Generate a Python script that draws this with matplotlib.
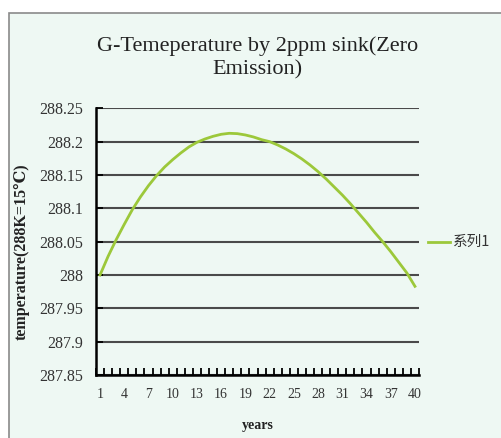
import matplotlib
matplotlib.use("Agg")
import matplotlib.pyplot as plt
from matplotlib.patches import Rectangle
import numpy as np

# data
years = list(range(1, 41))
temps = [288.000, 288.028, 288.053, 288.076, 288.098, 288.117, 288.134, 288.149,
         288.162, 288.173, 288.183, 288.192, 288.199, 288.204, 288.208, 288.211,
         288.2125, 288.212, 288.210, 288.207, 288.203, 288.200, 288.195, 288.189,
         288.182, 288.174, 288.165, 288.155, 288.144, 288.132, 288.120, 288.107,
         288.093, 288.079, 288.064, 288.050, 288.035, 288.019, 288.003, 287.983]
yticks = [287.85, 287.9, 287.95, 288, 288.05, 288.1, 288.15, 288.2, 288.25]
ytick_labels = ["287.85", "287.9", "287.95", "288", "288.05", "288.1", "288.15", "288.2", "288.25"]
xtick_years = years[::3]
series_name = "系列1"

W, H = 502, 438
bg = "#eef8f3"
line_color = "#9cc83a"
serif = ["Liberation Serif", "DejaVu Serif", "Noto Sans CJK SC"]

fig = plt.figure(figsize=(W / 100, H / 100), dpi=100, facecolor="white")
# chart area frame
frame = Rectangle((9 / W, -0.05), 1.2, 1 - 13 / H + 0.05, transform=fig.transFigure,
                  facecolor=bg, edgecolor="#8a8a8a", lw=1.2, zorder=-5)
fig.patches.append(frame)

ax = fig.add_axes([96 / W, 1 - 375 / H, 323 / W, (375 - 108.3) / H])
ax.patch.set_alpha(0)

for v in yticks:
    ax.axhline(v, color="#4a4a4a", lw=1.5, zorder=1)

ax.plot(years, temps, color=line_color, lw=2, zorder=3)

ax.set_xlim(0.5, 40.5)
ax.set_ylim(287.85, 288.25)

ax.set_yticks(yticks)
ax.set_yticklabels(ytick_labels, family=serif, fontsize=11.5, color="#333333")
ax.set_xticks(xtick_years)
ax.set_xticklabels([str(x) for x in xtick_years], family=serif, fontsize=10, color="#333333")
ax.set_xticks(np.arange(0.5, 41, 1), minor=True)
ax.tick_params(axis="x", which="major", length=0, pad=9)
ax.tick_params(axis="x", which="minor", direction="in", length=5, width=1.3, color="black")
ax.tick_params(axis="y", which="major", direction="in", length=5, width=1.3, color="black", pad=9)

for s in ["top", "right"]:
    ax.spines[s].set_visible(False)
for s in ["left", "bottom"]:
    ax.spines[s].set_linewidth(1.8)
    ax.spines[s].set_color("black")

fig.text(257.5 / W, 1 - 58 / H, "G-Temeperature by 2ppm sink(Zero\nEmission)", ha="center", va="center",
         family=serif, fontsize=16, color="#222222", linespacing=1.3)
fig.text(22 / W, 1 - 252 / H, "temperature(288K=15℃)", rotation=90, ha="center", va="center",
         family=serif, fontsize=11.5, fontweight="bold", color="#222222")
fig.text(257.5 / W, 1 - 425 / H, "years", ha="center", va="center",
         family=serif, fontsize=10, fontweight="bold", color="#222222")

# legend entry
fig.lines.append(plt.Line2D([428 / W, 450 / W], [1 - 242 / H, 1 - 242 / H], transform=fig.transFigure,
                            color=line_color, lw=2))
fig.text(453 / W, 1 - 242 / H, series_name, ha="left", va="center",
         family=["Noto Sans CJK SC", "DejaVu Sans"], fontsize=10.5, color="#333333")

fig.savefig("out.png", dpi=100, facecolor="white")
